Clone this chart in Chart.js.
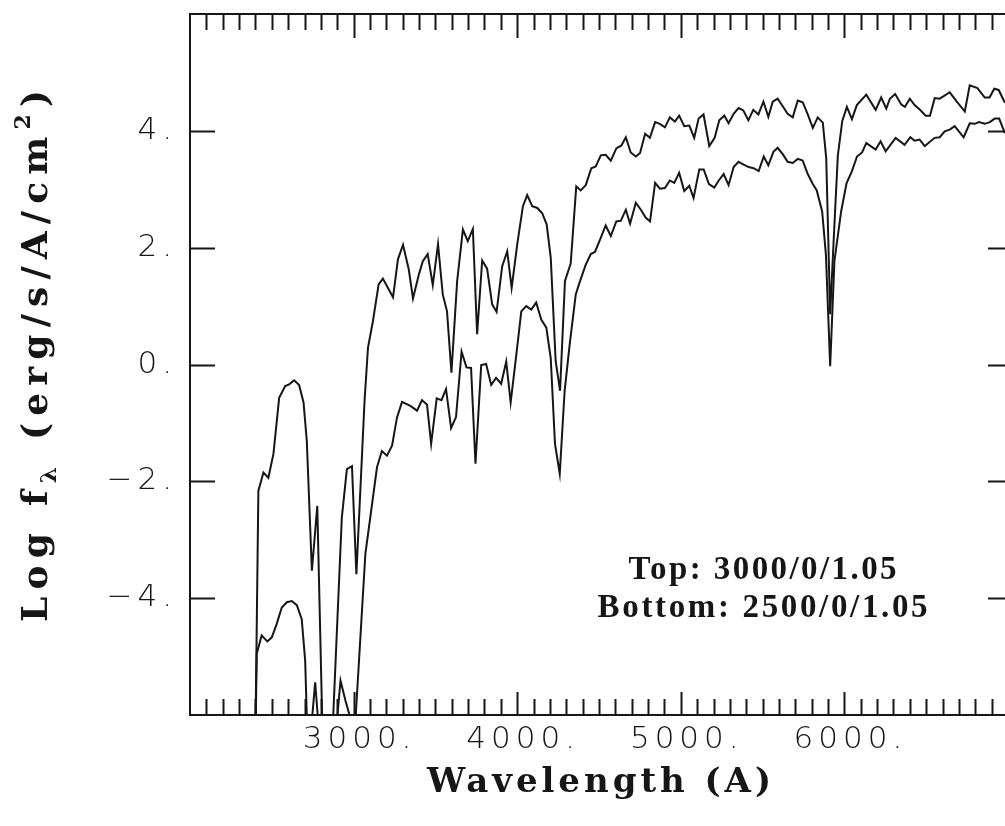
<!DOCTYPE html>
<html>
<head>
<meta charset="utf-8">
<title>Log f_lambda vs wavelength</title>
<script src="https://cdn.jsdelivr.net/npm/chart.js@4.4.1/dist/chart.umd.min.js"></script>
<style>
  html, body { margin: 0; padding: 0; background: #fff; overflow: hidden; }
  #wrap { position: relative; width: 1020px; height: 826px; }
</style>
</head>
<body>
<div id="wrap"><canvas id="spec"></canvas></div>
<script>
// wavelengths (A) and log flux; values below -6 run off the frame
const topWave = [2397, 2418, 2449, 2479, 2510, 2545, 2582, 2606, 2637, 2667, 2694, 2714, 2745, 2778, 2810, 2840, 2871,
  2928, 2959, 2990, 3017, 3067, 3088, 3118, 3153, 3179, 3241, 3271, 3302, 3337, 3363, 3398, 3423, 3453, 3484, 3516,
  3545, 3571, 3598, 3633, 3668, 3698, 3729, 3755, 3786, 3816, 3847, 3874, 3908, 3939, 3966, 4000, 4035, 4061, 4092,
  4123, 4153, 4180, 4205, 4235, 4262, 4292, 4327, 4361, 4388, 4419, 4453, 4480, 4511, 4541, 4572, 4606, 4637, 4664,
  4694, 4725, 4751, 4782, 4811, 4843, 4872, 4903, 4933, 4964, 4990, 5021, 5052, 5082, 5109, 5139, 5174, 5207, 5235,
  5266, 5292, 5323, 5353, 5382, 5413, 5443, 5474, 5505, 5535, 5562, 5592, 5623, 5653, 5684, 5715, 5745, 5776, 5807,
  5837, 5868, 5889, 5913, 5937, 5960, 5987, 6015, 6046, 6076, 6134, 6191, 6225, 6256, 6278, 6310, 6348, 6370, 6400,
  6429, 6462, 6497, 6523, 6552, 6583, 6644, 6687, 6736, 6766, 6813, 6858, 6887, 6916, 6943, 6981];
const topFlux = [-7, -2.16, -1.85, -1.94, -1.53, -0.57, -0.37, -0.34, -0.27, -0.35, -0.65, -1.31, -3.53, -2.42, -6.3, -8, -6.3,
  -2.62, -1.79, -1.74, -3.59, -0.62, 0.29, 0.74, 1.37, 1.47, 1.15, 1.80, 2.05, 1.63, 1.13, 1.53, 1.77, 1.89, 1.36, 2.06,
  1.20, 0.91, -0.14, 1.43, 2.31, 2.11, 2.32, 0.52, 1.78, 1.64, 1.03, 0.90, 1.68, 1.94, 1.31, 2.05, 2.71, 2.90, 2.71,
  2.68, 2.59, 2.40, 1.83, 0.06, -0.45, 1.43, 1.73, 3.05, 2.98, 3.07, 3.36, 3.39, 3.58, 3.59, 3.49, 3.70, 3.75, 3.89,
  3.63, 3.56, 3.62, 3.95, 3.88, 4.15, 4.12, 4.06, 4.23, 4.16, 4.26, 4.08, 4.09, 3.88, 4.21, 4.28, 3.74, 3.88, 4.18,
  4.26, 4.13, 4.29, 4.39, 4.35, 4.18, 4.36, 4.28, 4.50, 4.24, 4.50, 4.55, 4.42, 4.29, 4.23, 4.52, 4.49, 4.28, 4.05,
  4.23, 4.14, 3.53, 0.86, 2.28, 3.58, 4.17, 4.41, 4.20, 4.44, 4.62, 4.36, 4.57, 4.38, 4.55, 4.63, 4.45, 4.41, 4.55,
  4.44, 4.36, 4.26, 4.26, 4.56, 4.55, 4.66, 4.50, 4.33, 4.78, 4.73, 4.57, 4.57, 4.72, 4.70, 4.48];

const bottomWave = [2397, 2408, 2438, 2473, 2500, 2530, 2561, 2592, 2622, 2653, 2683, 2704, 2724, 2745, 2765, 2786,
  2820, 2860, 2895, 2920, 2950, 2980, 3010, 3072, 3143, 3173, 3204, 3235, 3265, 3296, 3347, 3388, 3418, 3449, 3474,
  3508, 3537, 3565, 3596, 3626, 3660, 3690, 3718, 3745, 3780, 3810, 3841, 3871, 3902, 3933, 3960, 3994, 4025, 4055,
  4086, 4116, 4147, 4178, 4205, 4231, 4260, 4290, 4321, 4358, 4382, 4419, 4450, 4476, 4507, 4541, 4572, 4606, 4633,
  4664, 4690, 4725, 4756, 4786, 4812, 4843, 4872, 4903, 4933, 4960, 4990, 5021, 5052, 5078, 5113, 5140, 5172, 5205,
  5232, 5262, 5292, 5323, 5353, 5384, 5415, 5445, 5476, 5507, 5535, 5566, 5592, 5623, 5653, 5684, 5715, 5745, 5776,
  5807, 5831, 5864, 5887, 5913, 5939, 5980, 6013, 6046, 6077, 6108, 6134, 6191, 6221, 6252, 6313, 6368, 6403, 6429,
  6460, 6491, 6552, 6583, 6613, 6644, 6674, 6729, 6766, 6797, 6823, 6858, 6889, 6919, 6946, 6981];
const bottomFlux = [-7, -4.95, -4.64, -4.74, -4.67, -4.44, -4.16, -4.07, -4.05, -4.12, -4.36, -5.07, -7, -6.1, -5.44, -6.2,
  -7.5, -7.5, -6.2, -5.41, -5.75, -6.05, -6.15, -3.24, -1.76, -1.48, -1.56, -1.39, -0.91, -0.64, -0.71, -0.79, -0.61,
  -0.69, -1.36, -0.58, -0.61, -0.42, -1.09, -0.90, 0.22, -0.05, -0.06, -1.70, -0.01, 0.01, -0.35, -0.23, -0.33, 0.05,
  -0.65, 0.15, 0.91, 1.00, 0.94, 1.06, 0.77, 0.63, 0.11, -1.36, -1.87, -0.45, 0.35, 1.20, 1.41, 1.71, 1.89, 1.93, 2.14,
  2.38, 2.20, 2.45, 2.46, 2.65, 2.41, 2.77, 2.65, 2.51, 2.45, 3.11, 3.01, 3.02, 3.15, 3.11, 3.28, 2.97, 3.06, 2.85,
  3.34, 3.34, 3.09, 3.03, 3.15, 3.26, 3.07, 3.38, 3.47, 3.42, 3.38, 3.36, 3.31, 3.56, 3.41, 3.64, 3.71, 3.60, 3.47,
  3.45, 3.52, 3.49, 3.26, 3.09, 2.98, 2.62, 1.88, -0.03, 1.77, 2.62, 3.10, 3.31, 3.56, 3.63, 3.79, 3.68, 3.82, 3.65,
  3.88, 3.76, 3.89, 3.83, 3.85, 3.74, 3.88, 3.89, 3.99, 4.02, 4.08, 3.89, 4.13, 4.12, 4.15, 4.12, 4.15, 4.21, 4.21, 3.96];

const xTickLabels = [3000, 4000, 5000, 6000];
const yTickValues = [-4, -2, 0, 2, 4];
const yTickText = ['\u22124.', '\u22122.', '0.', '2.', '4.'];
const noteLines = ['Top: 3000/0/1.05', 'Bottom: 2500/0/1.05'];

const ink = '#161616';
const serif = "'DejaVu Serif', 'Liberation Serif', serif";
const tickFont = { family: "'DejaVu Sans', sans-serif", size: 31, weight: 200 };

Chart.defaults.color = ink;
Chart.defaults.animation = false;

// spread a run of text pieces so it spans `target` px
function fitPieces(ctx, pieces, target) {
  let natural = 0;
  let chars = 0;
  ctx.letterSpacing = '0px';
  pieces.forEach((p) => {
    ctx.font = p.font;
    p.w = ctx.measureText(p.text).width;
    natural += p.w + (p.gap || 0);
    chars += [...p.text].length;
  });
  return Math.max(-1, (target - natural) / Math.max(1, chars - 1));
}

function drawPieces(ctx, pieces, x0, base, ls) {
  let x = x0;
  pieces.forEach((p) => {
    x += p.gap || 0;
    ctx.font = p.font;
    ctx.letterSpacing = ls + 'px';
    ctx.fillText(p.text, x, base + (p.dy || 0));
    x += p.w + ls * [...p.text].length;
  });
}

const framePlugin = {
  id: 'frame',
  beforeDraw(chart) {
    chart.ctx.letterSpacing = '5px';
  },
  afterDraw(chart) {
    const { ctx, chartArea: a } = chart;
    const x = chart.scales.x;
    const y = chart.scales.y;
    ctx.save();
    ctx.letterSpacing = '0px';
    ctx.strokeStyle = ink;
    ctx.lineWidth = 2;
    ctx.strokeRect(a.left, a.top, a.right - a.left, a.bottom - a.top);

    // inward tick marks on all four sides
    ctx.beginPath();
    x.ticks.forEach((t) => {
      if (t.value <= x.min || t.value >= x.max) return;
      const px = Math.round(x.getPixelForValue(t.value)) + 0.5;
      const major = Math.round(t.value) % 1000 === 0;
      ctx.moveTo(px, a.bottom);
      ctx.lineTo(px, a.bottom - (major ? 23 : 16));
      ctx.moveTo(px, a.top);
      ctx.lineTo(px, a.top + (major ? 24 : 16));
    });
    y.ticks.forEach((t) => {
      if (t.value <= y.min || t.value >= y.max) return;
      const py = Math.round(y.getPixelForValue(t.value)) + 0.5;
      ctx.moveTo(a.left, py);
      ctx.lineTo(a.left + 25, py);
      ctx.moveTo(a.right, py);
      ctx.lineTo(a.right - 20, py);
    });
    ctx.stroke();

    ctx.fillStyle = ink;
    ctx.textAlign = 'left';
    ctx.textBaseline = 'alphabetic';

    // x title
    const xt = [{ text: 'Wavelength (A)', font: 'bold 34px ' + serif }];
    let ls = fitPieces(ctx, xt, 344);
    drawPieces(ctx, xt, (a.left + a.right) / 2 - 172, 792, ls);

    // y title, rotated, with subscript lambda and superscript 2
    const yt = [
      { text: 'Log', font: 'bold 36px ' + serif },
      { text: 'f', font: 'bold 36px ' + serif, gap: 20 },
      { text: '\u03bb', font: 'bold 23px ' + serif, dy: 9 },
      { text: '(erg/s/A/cm', font: 'bold 36px ' + serif, gap: 20 },
      { text: '2', font: 'bold 22px ' + serif, dy: -17 },
      { text: ')', font: 'bold 36px ' + serif },
    ];
    ls = fitPieces(ctx, yt, 532);
    ctx.save();
    ctx.translate(47, 356);
    ctx.rotate(-Math.PI / 2);
    drawPieces(ctx, yt, -266, 0, ls);
    ctx.restore();

    // model note
    const cx = x.getPixelForValue(5500);
    const noteWidths = [268, 330];
    const noteBase = [-3.67, -4.32];
    noteLines.forEach((line, i) => {
      const p = [{ text: line, font: "bold 33px 'Liberation Serif', serif" }];
      const s = fitPieces(ctx, p, noteWidths[i]);
      drawPieces(ctx, p, cx - noteWidths[i] / 2, y.getPixelForValue(noteBase[i]), s);
    });
    ctx.restore();
  },
};

const toPoints = (xs, ys) => xs.map((w, i) => ({ x: w, y: ys[i] }));

new Chart(document.getElementById('spec'), {
  type: 'line',
  data: {
    datasets: [
      {
        label: 'Top',
        data: toPoints(topWave, topFlux),
        borderColor: ink,
        borderWidth: 2,
        pointRadius: 0,
        tension: 0,
        fill: false,
      },
      {
        label: 'Bottom',
        data: toPoints(bottomWave, bottomFlux),
        borderColor: ink,
        borderWidth: 2,
        pointRadius: 0,
        tension: 0,
        fill: false,
      },
    ],
  },
  options: {
    responsive: true,
    maintainAspectRatio: false,
    layout: { padding: { top: 14, right: 12, left: 0, bottom: 0 } },
    plugins: { legend: { display: false }, tooltip: { enabled: false } },
    scales: {
      x: {
        type: 'linear',
        min: 2000,
        max: 7000,
        afterFit: (s) => {
          s.height = 111;
          s.paddingLeft = 0;
          s.paddingRight = 0;
        },
        grid: { display: false, drawTicks: false },
        border: { display: false },
        ticks: {
          stepSize: 100,
          autoSkip: false,
          maxRotation: 0,
          padding: 6,
          labelOffset: 6,
          font: tickFont,
          color: ink,
          callback: (v) => (xTickLabels.includes(Math.round(v)) ? Math.round(v) + '.' : ''),
        },
      },
      y: {
        type: 'linear',
        min: -6,
        max: 6,
        afterFit: (s) => {
          s.width = 190;
          s.paddingTop = 0;
          s.paddingBottom = 0;
        },
        grid: { display: false, drawTicks: false },
        border: { display: false },
        ticks: {
          stepSize: 2,
          padding: 13,
          font: tickFont,
          color: ink,
          callback: (v) => {
            const i = yTickValues.indexOf(Math.round(v));
            return i >= 0 ? yTickText[i] : '';
          },
        },
      },
    },
  },
  plugins: [framePlugin],
});
</script>
</body>
</html>
